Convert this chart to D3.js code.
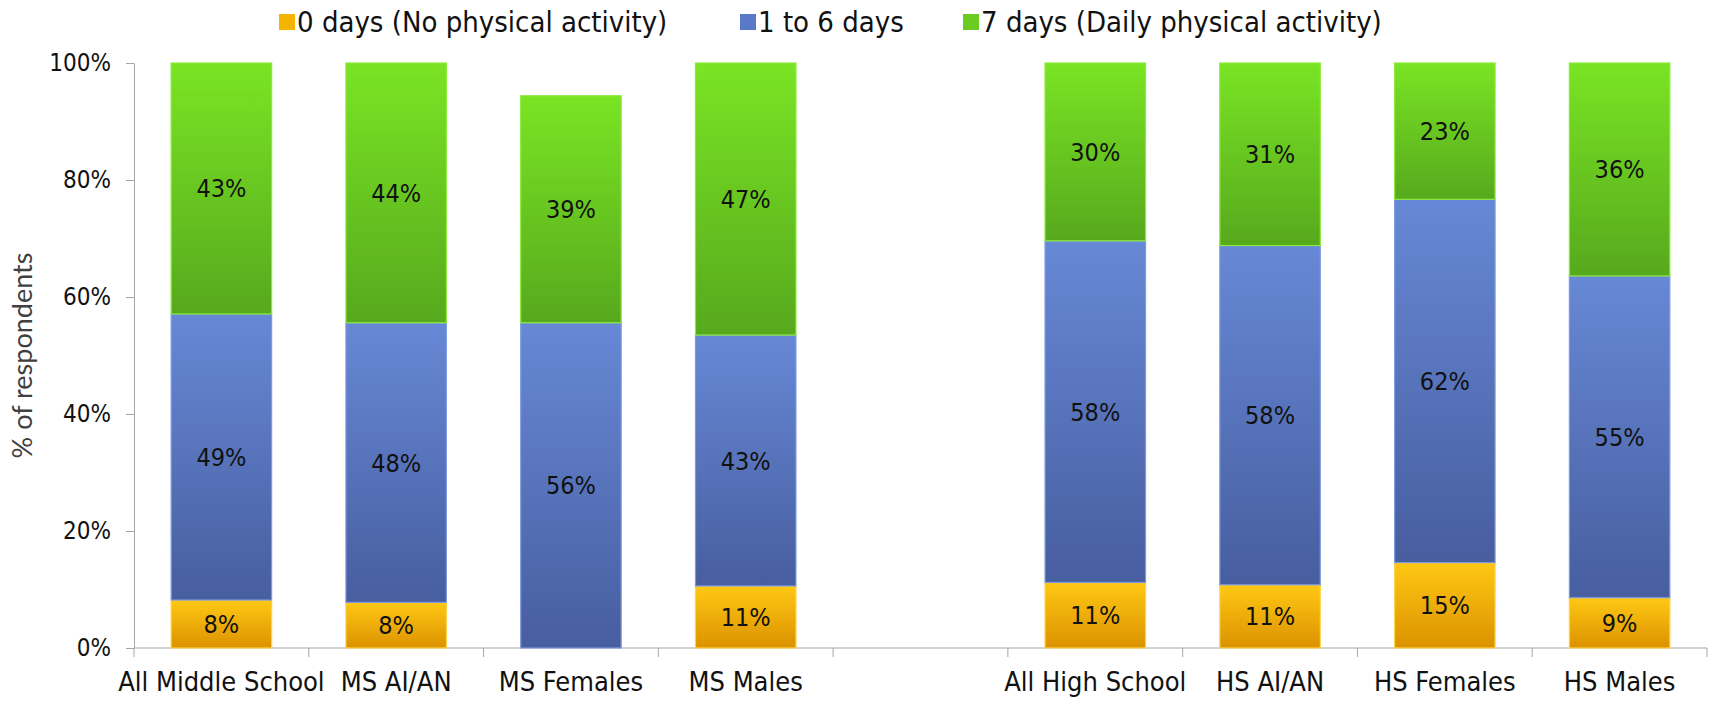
<!DOCTYPE html>
<html><head><meta charset="utf-8">
<script src="https://cdn.jsdelivr.net/npm/d3@7"></script>
<style>body{margin:0;background:#fff}svg{display:block}</style>
</head><body><svg id="c" width="1712" height="702"></svg>
<script>
const categories = ["All Middle School","MS AI/AN","MS Females","MS Males","","All High School","HS AI/AN","HS Females","HS Males"];
const noActivity = [8.2, 7.8, null, 10.6, null, 11.2, 10.8, 14.6, 8.6];
const someDays   = [48.9, 47.8, 55.6, 42.9, null, 58.4, 58.0, 62.1, 55.0];
const daily      = [42.9, 44.4, 38.8, 46.5, null, 30.4, 31.2, 23.3, 36.4];
const seriesNames = ["0 days (No physical activity)","1 to 6 days","7 days (Daily physical activity)"];
const yTicks = [0,20,40,60,80,100];
const yTitle = "% of respondents";

const svg = d3.select("#c");
const font = "'DejaVu Sans Condensed','DejaVu Sans',sans-serif";
const m = {l:134, r:5, t:63, b:54};
const W = 1712, H = 702;
const x = d3.scaleBand().domain(d3.range(categories.length)).range([m.l, W - m.r]).paddingInner(0.425).paddingOuter(0.2125);
const y = d3.scaleLinear().domain([0,100]).range([H - m.b, m.t]);

const colors = [
  {top:"#FFC814", bot:"#DB9200", stroke:"#FFD24A", key:"#F5B400"},
  {top:"#6788D6", bot:"#475E9F", stroke:"#7E9BE0", key:"#5A78C8"},
  {top:"#7AE424", bot:"#57A91D", stroke:"#8BEA3A", key:"#6CCB20"}
];
const defs = svg.append("defs");
colors.forEach((c,i)=>{
  const g = defs.append("linearGradient").attr("id","g"+i).attr("x1",0).attr("x2",0).attr("y1",0).attr("y2",1);
  g.append("stop").attr("offset","0%").attr("stop-color",c.top);
  g.append("stop").attr("offset","100%").attr("stop-color",c.bot);
});

// axes
const yAxis = svg.append("g").attr("transform",`translate(${m.l},0)`)
  .call(d3.axisLeft(y).tickValues(yTicks).tickFormat(d=>d+"%").tickSize(8).tickSizeOuter(0));
yAxis.select(".domain").attr("stroke","#a6a6a6");
yAxis.selectAll(".tick line").attr("stroke","#a6a6a6");
yAxis.selectAll("text").attr("font-family",font).attr("font-size",24).attr("fill","#111").attr("x",-23);

const xAxis = svg.append("g").attr("transform",`translate(0,${y(0)})`);
xAxis.append("line").attr("x1",m.l).attr("x2",W-m.r).attr("stroke","#a6a6a6");
const bounds = d3.range(categories.length+1).map(i => m.l + i*(W-m.r-m.l)/categories.length);
xAxis.selectAll("line.t").data(bounds).join("line").attr("class","t")
  .attr("x1",d=>d).attr("x2",d=>d).attr("y1",0).attr("y2",9).attr("stroke","#a6a6a6");
xAxis.selectAll("text").data(categories).join("text")
  .attr("x",(d,i)=>x(i)+x.bandwidth()/2).attr("y",43)
  .attr("text-anchor","middle").attr("font-family",font).attr("font-size",27).attr("fill","#111").text(d=>d);

svg.append("text").attr("transform",`translate(32,${(y(0)+y(100))/2}) rotate(-90)`)
  .attr("text-anchor","middle").attr("font-family","Lato,'Open Sans',sans-serif").attr("font-size",27).attr("fill","#404040").text(yTitle);

// stacked bars
const rows = categories.map((c,i)=>({i, v:[noActivity[i], someDays[i], daily[i]]}));
const fmt = v => Math.round(v) + "%";
rows.forEach(r=>{
  let base = 0;
  r.v.forEach((v,k)=>{
    if (v == null) return;
    const y0 = base, y1 = base + v; base = y1;
    svg.append("rect").attr("x",x(r.i)).attr("width",x.bandwidth())
      .attr("y",y(y1)).attr("height",y(y0)-y(y1))
      .attr("fill",`url(#g${k})`).attr("stroke",colors[k].stroke).attr("stroke-width",1.2);
    svg.append("text").attr("x",x(r.i)+x.bandwidth()/2).attr("y",(y(y0)+y(y1))/2)
      .attr("dy","0.36em").attr("text-anchor","middle").attr("font-family",font).attr("font-size",25).attr("fill","#111").text(fmt(v));
  });
});

// legend
const legend = svg.append("g").attr("transform","translate(0,22)");
const legX = [279, 740, 963];
seriesNames.forEach((n,k)=>{
  legend.append("rect").attr("x",legX[k]).attr("y",-8).attr("width",16).attr("height",16).attr("fill",colors[k].key);
  legend.append("text").attr("x",legX[k]+18).attr("y",0).attr("dy","0.36em").attr("font-family",font).attr("font-size",29).attr("fill","#111").text(n);
});
</script></body></html>
